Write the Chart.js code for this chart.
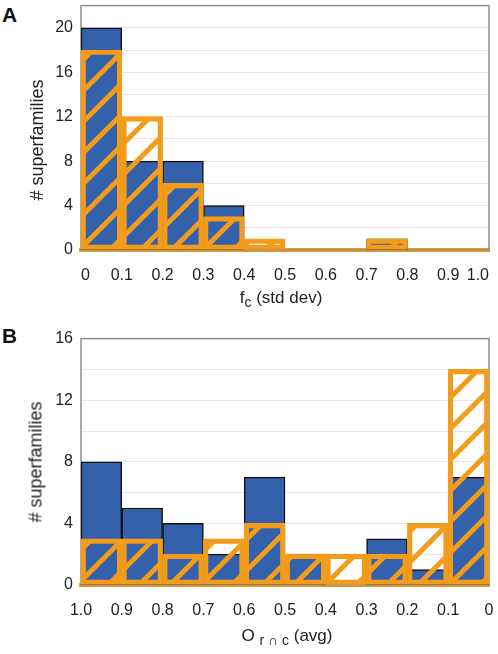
<!DOCTYPE html>
<html lang="en">
<head>
    <meta charset="UTF-8">
    <title>Superfamily histograms</title>
    <script src="https://cdn.jsdelivr.net/npm/chart.js@4.4.0/dist/chart.umd.min.js"></script>
    <style>
        body { margin: 0; background: #fff; font-family: "Liberation Sans", Arial, sans-serif; }
        #page { position: relative; width: 498px; height: 654px; overflow: hidden; }
        .panel { position: absolute; left: 0; width: 498px; }
        .letter { position: absolute; left: 2px; font-weight: bold; font-size: 21px; color: #111; }
        .xtitle { position: absolute; font-size: 17px; color: #222; white-space: nowrap; transform: translateX(-50%); }
        .xtitle sub { font-size: 14px; vertical-align: -4px; }
        .ytitle { position: absolute; font-size: 18px; color: #222; white-space: nowrap;
                  transform: translate(-50%, -50%) rotate(-90deg); }
    </style>
</head>
<body>
<div id="page">
    <div class="letter" style="top:3px;">A</div>
    <div class="panel" style="top:-12px; height:304px;"><canvas id="chartA"></canvas></div>
    <div class="ytitle" style="left:37px; top:140px;"># superfamilies</div>
    <div class="xtitle" style="left:281px; top:288px;">f<sub>c</sub> (std dev)</div>

    <div class="letter" style="top:324px;">B</div>
    <div class="panel" style="top:321px; height:306px;"><canvas id="chartB"></canvas></div>
    <div class="ytitle" style="left:36px; top:462px;"># superfamilies</div>
    <div class="xtitle" style="left:287px; top:626px;">O <sub>r &cap; c</sub> (avg)</div>
</div>

<script>
    // panel A: fc (std dev) bins, 0 -> 1.0
    const binsA = ['0-0.1', '0.1-0.2', '0.2-0.3', '0.3-0.4', '0.4-0.5', '0.5-0.6', '0.6-0.7', '0.7-0.8', '0.8-0.9', '0.9-1.0'];
    const blueA = [20, 8, 8, 4, 0, 0, 0, 1, 0, 0];
    const orangeA = [18, 12, 6, 3, 1, 0, 0, 1, 0, 0];
    const xTicksA = ['0', '0.1', '0.2', '0.3', '0.4', '0.5', '0.6', '0.7', '0.8', '0.9', '1.0'];

    // panel B: O r∩c (avg) bins, 1.0 -> 0 (left to right)
    const binsB = ['1.0-0.9', '0.9-0.8', '0.8-0.7', '0.7-0.6', '0.6-0.5', '0.5-0.4', '0.4-0.3', '0.3-0.2', '0.2-0.1', '0.1-0'];
    const blueB = [8, 5, 4, 2, 7, 2, 0, 3, 1, 7];
    const orangeB = [3, 3, 2, 3, 4, 2, 2, 2, 4, 14];
    const xTicksB = ['1.0', '0.9', '0.8', '0.7', '0.6', '0.5', '0.4', '0.3', '0.2', '0.1', '0'];

    const BLUE = '#3461ac';
    const ORANGE = '#f39c1c';

    function makeHatch() {
        const size = 31;
        const c = document.createElement('canvas');
        c.width = size; c.height = size;
        const g = c.getContext('2d');
        g.strokeStyle = ORANGE;
        g.lineWidth = 5;
        g.beginPath();
        g.moveTo(-4, size + 4); g.lineTo(size + 4, -4);
        g.moveTo(-4, 4); g.lineTo(4, -4);
        g.moveTo(size - 4, size + 4); g.lineTo(size + 4, size - 4);
        g.stroke();
        return g.createPattern(c, 'repeat');
    }
    const hatch = makeHatch();

    // gray frame round the plot area, under the bars
    const framePlugin = {
        id: 'frame',
        beforeDatasetsDraw(chart) {
            const a = chart.chartArea;
            const ctx = chart.ctx;
            ctx.save();
            ctx.strokeStyle = '#8f8f8f';
            ctx.lineWidth = 1.5;
            ctx.strokeRect(a.left, a.top, a.right - a.left, a.bottom - a.top);
            ctx.restore();
        }
    };

    function makeChart(id, bins, blue, orange, ticks, yMax, tickAlign) {
        const ctx = document.getElementById(id).getContext('2d');
        return new Chart(ctx, {
            type: 'bar',
            data: {
                labels: bins,
                datasets: [{
                    label: 'orange',
                    data: orange,
                    backgroundColor: hatch,
                    borderColor: ORANGE,
                    borderWidth: 4.5,
                    borderSkipped: false,
                    grouped: false,
                    order: 0
                }, {
                    label: 'blue',
                    data: blue,
                    backgroundColor: BLUE,
                    borderColor: '#111',
                    borderWidth: 1.5,
                    borderSkipped: false,
                    grouped: false,
                    order: 1
                }]
            },
            options: {
                responsive: true,
                maintainAspectRatio: false,
                animation: false,
                layout: { padding: { top: 5, right: 9, left: 0, bottom: 0 } },
                datasets: { bar: { categoryPercentage: 1, barPercentage: 1 } },
                plugins: {
                    legend: { display: false },
                    tooltip: { enabled: false }
                },
                scales: {
                    x: {
                        type: 'category',
                        display: false
                    },
                    x2: {
                        type: 'linear',
                        position: 'bottom',
                        offset: false,
                        min: 0,
                        max: 1,
                        grid: { display: false, drawTicks: false },
                        border: { display: true, color: ORANGE, width: 4 },
                        ticks: {
                            stepSize: 0.1,
                            padding: 16,
                            align: tickAlign,
                            color: '#222',
                            font: { family: '"Liberation Sans", Arial', size: 16 },
                            maxRotation: 0,
                            autoSkip: false,
                            callback: (v, i) => ticks[i]
                        },
                        afterFit: (s) => { s.height = 42; s.paddingLeft = 0; s.paddingRight = 0; }
                    },
                    y: {
                        min: 0,
                        max: yMax,
                        grid: { color: '#e6e6e6', lineWidth: 1, drawTicks: false },
                        border: { display: false },
                        ticks: {
                            stepSize: 2,
                            padding: 8,
                            color: '#222',
                            font: { family: '"Liberation Sans", Arial', size: 16 },
                            callback: (v) => (v % 4 === 0 ? v : '')
                        },
                        afterFit: (s) => { s.width = 81; }
                    }
                }
            },
            plugins: [framePlugin]
        });
    }

    makeChart('chartA', binsA, blueA, orangeA, xTicksA, 22, 'inner');
    makeChart('chartB', binsB, blueB, orangeB, xTicksB, 16, 'center');
</script>
</body>
</html>
